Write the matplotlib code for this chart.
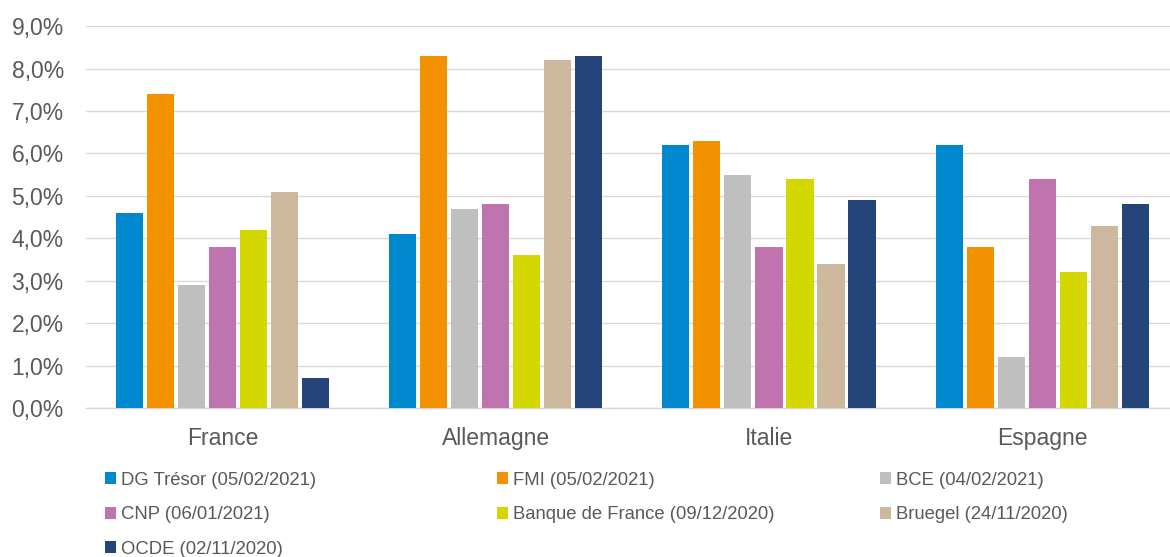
import numpy as np
import matplotlib.pyplot as plt
from matplotlib.patches import Patch

plt.rcParams['font.family'] = ['Liberation Sans', 'DejaVu Sans']

# Données
pays = ['France', 'Allemagne', 'Italie', 'Espagne']
series = ['DG Trésor (05/02/2021)', 'FMI (05/02/2021)', 'BCE (04/02/2021)',
          'CNP (06/01/2021)', 'Banque de France (09/12/2020)',
          'Bruegel (24/11/2020)', 'OCDE (02/11/2020)']
dg_tresor = [4.6, 4.1, 6.2, 6.2]
fmi = [7.4, 8.3, 6.3, 3.8]
bce = [2.9, 4.7, 5.5, 1.2]
cnp = [3.8, 4.8, 3.8, 5.4]
bdf = [4.2, 3.6, 5.4, 3.2]
bruegel = [5.1, 8.2, 3.4, 4.3]
ocde = [0.7, 8.3, 4.9, 4.8]
valeurs = [dg_tresor, fmi, bce, cnp, bdf, bruegel, ocde]
yticks = [0, 1, 2, 3, 4, 5, 6, 7, 8, 9]

couleurs = ['#0088CE', '#F39200', '#BFBFBF', '#BF73AF', '#D4D800', '#CDB89E', '#25457A']
gris = '#595959'

fig = plt.figure(figsize=(11.7, 5.57), dpi=100)
ax = fig.add_axes([0.0735, 0.2675, 0.934, 0.6855])

x = np.arange(len(pays))
pas = 0.1135
largeur = 0.099
for i, (v, c) in enumerate(zip(valeurs, couleurs)):
    ax.bar(x + (i - 3) * pas, v, width=largeur, color=c, zorder=3)

ax.set_xlim(-0.5, 3.5)
ax.set_ylim(0, 9)
ax.set_yticks(yticks)
ax.set_yticklabels([f'{t:.1f}%'.replace('.', ',') for t in yticks])
ax.set_xticks(x)
ax.set_xticklabels(pays)
ax.tick_params(axis='both', length=0, labelsize=16.5, colors=gris)
ax.tick_params(axis='x', pad=14)
ax.tick_params(axis='y', pad=16)
ax.grid(axis='y', color='#D9D9D9', linewidth=1, zorder=0)
for s in ['top', 'right', 'left']:
    ax.spines[s].set_visible(False)
ax.spines['bottom'].set_color('#D9D9D9')
ax.spines['bottom'].set_linewidth(1)

# Légende en 3 colonnes de largeur égale
handles = [Patch(facecolor=c, edgecolor='none') for c in couleurs]
colonnes = [[0, 3, 6], [1, 4], [2, 5]]
xpos = [0.090, 0.425, 0.752]
for idx, xp in zip(colonnes, xpos):
    fig.legend([handles[i] for i in idx], [series[i] for i in idx],
               loc='upper left', bbox_to_anchor=(xp, 0.153), frameon=False,
               fontsize=13.3, labelcolor=gris, handlelength=0.6, handleheight=0.6,
               handletextpad=0.25, labelspacing=0.95, borderaxespad=0, borderpad=0)

fig.savefig('out.png', dpi=100)
